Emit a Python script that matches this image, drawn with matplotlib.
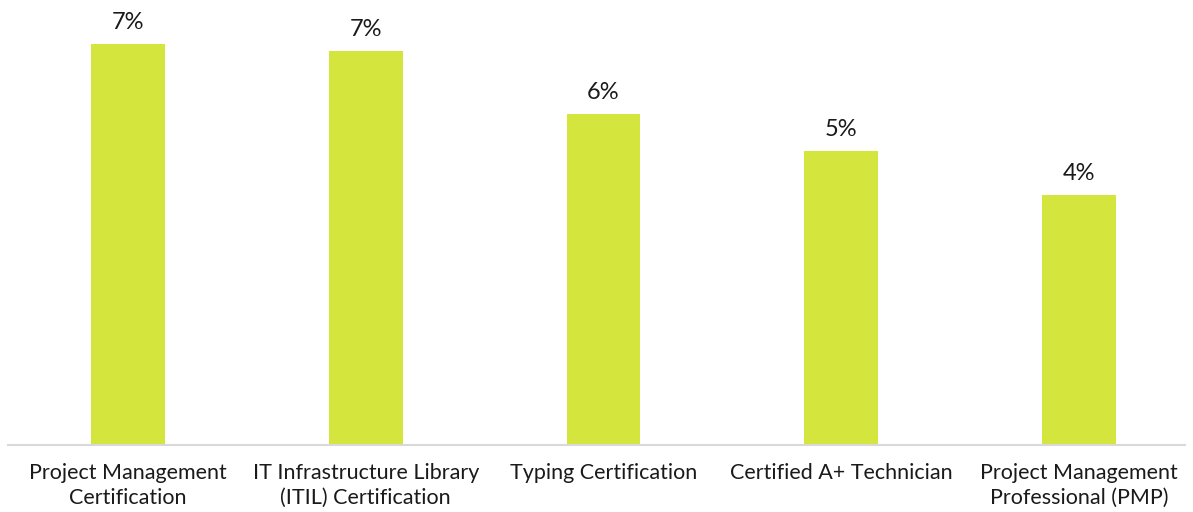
import matplotlib
matplotlib.use("Agg")
import matplotlib.pyplot as plt

categories = ["Project Management\nCertification",
              "IT Infrastructure Library\n(ITIL) Certification",
              "Typing Certification",
              "Certified A+ Technician",
              "Project Management\nProfessional (PMP)"]
values = [7.04, 6.91, 5.81, 5.16, 4.39]

plt.rcParams['font.family'] = ['Lato', 'DejaVu Sans']

fig = plt.figure(figsize=(11.93, 5.12), dpi=100)
ax = fig.add_axes([8/1193, 67/512, 1177/1193, 445/512])
x = range(len(categories))
bars = ax.bar(x, values, width=0.311, color="#D4E53E", zorder=2)
ax.set_xlim(-0.505, 4.446)
ax.set_ylim(0, 445/57)
for xi, v in zip(x, values):
    ax.annotate(f"{v:.0f}%", (xi, v), xytext=(0, 8), textcoords="offset points",
                ha="center", va="bottom", fontsize=17, color="#1a1a1a")
ax.set_xticks(list(x))
ax.set_xticklabels(categories, fontsize=15.5, color="#1a1a1a", linespacing=1.3)
ax.tick_params(axis="x", length=0, pad=13)
ax.set_yticks([])
for s in ["top", "right", "left"]:
    ax.spines[s].set_visible(False)
ax.spines["bottom"].set_color("#d9d9d9")
ax.spines["bottom"].set_linewidth(1.5)
fig.savefig("out.png", dpi=100)
